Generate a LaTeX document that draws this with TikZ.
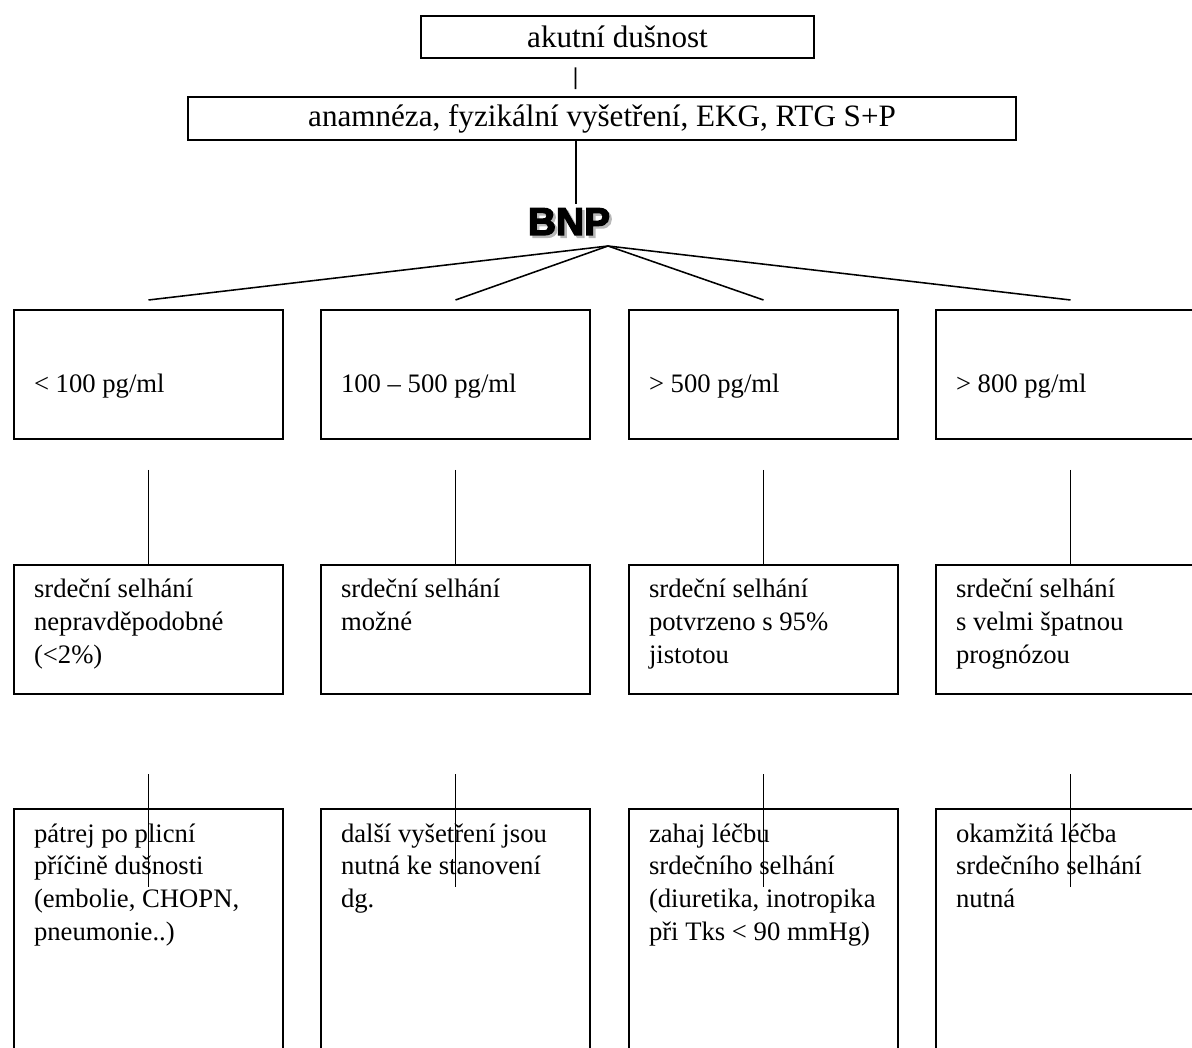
\documentclass[tikz,border=0pt]{standalone}
\usepackage{fontspec}
\setmainfont{Liberation Serif}
\newfontface\bnpfont{Liberation Sans Bold}[FakeBold=3.5]

\begin{document}
\begin{tikzpicture}[x=0.45pt, y=-0.45pt, line width=0.7pt,
	every node/.style={font=\fontsize{12}{14.7}\selectfont},
	headbox/.style={draw, line width=0.9pt, minimum height=19.2pt, inner sep=0pt, font=\fontsize{14}{16}\selectfont},
	levelbox/.style={draw, line width=0.9pt, anchor=north west, text width=103.05pt, inner xsep=9pt, inner ysep=0pt, text height=14.85pt,
		execute at begin node={\spaceskip=\fontdimen2\font\relax\xspaceskip=\fontdimen2\font\relax}},
	bnplabel/.style={anchor=base, inner sep=0pt, font=\bnpfont\fontsize{17.5}{20}\selectfont}]
	\useasboundingbox (0,0) rectangle (1192,1048);
	\clip (0,0) rectangle (1192,1048);
	\node[headbox, minimum width=176.85pt] (onset) at (617.5,37) {akutní dušnost};
	\node[headbox, minimum width=372.6pt] (exam) at (602,118.5) {anamnéza, fyzikální vyšetření, EKG, RTG S+P};
	\node[bnplabel, gray!55] (bnpshadow) at (571.5,237.5) {BNP};
	\node[bnplabel] (bnp) at (569,235) {BNP};
	\coordinate (apex) at (608,246);
	\draw ([shift={(-42,8)}]onset.south) -- ([shift={(-26.5,-7)}]exam.north);
	\draw ([shift={(-26,0)}]exam.south) -- ([shift={(7,-3)}]bnp.north);

	\node[levelbox, text height=37.35pt, text depth=20.7pt] (r1a) at (13,309) {< 100 pg/ml};
	\node[levelbox, text height=37.35pt, text depth=20.7pt] (r1b) at (320,309) {100 – 500 pg/ml};
	\node[levelbox, text height=37.35pt, text depth=20.7pt] (r1c) at (628,309) {> 500 pg/ml};
	\node[levelbox, text height=37.35pt, text depth=20.7pt] (r1d) at (935,309) {> 800 pg/ml};

	\node[levelbox, text depth=43.2pt] (r2a) at (13,564) {srdeční selhání\\ nepravděpodobné\\ (<2\%)};
	\node[levelbox, text depth=43.2pt] (r2b) at (320,564) {srdeční selhání\\ možné};
	\node[levelbox, text depth=43.2pt] (r2c) at (628,564) {srdeční selhání\\ potvrzeno s 95\%\\ jistotou};
	\node[levelbox, text depth=43.2pt] (r2d) at (935,564) {srdeční selhání\\ s velmi špatnou\\ prognózou};

	\node[levelbox, text depth=120pt] (r3a) at (13,808) {pátrej po plicní\\ příčině dušnosti\\ (embolie, CHOPN,\\ pneumonie..)};
	\node[levelbox, text depth=120pt] (r3b) at (320,808) {další vyšetření jsou\\ nutná ke stanovení\\ dg.};
	\node[levelbox, text depth=120pt] (r3c) at (628,808) {zahaj léčbu\\ srdečního selhání\\ (diuretika, inotropika\\ \mbox{při Tks < 90 mmHg)}};
	\node[levelbox, text depth=120pt] (r3d) at (935,808) {okamžitá léčba\\ srdečního selhání\\ nutná};

	\foreach \c in {a,b,c,d} {
		\draw (apex) -- ([shift={(0,-9)}]r1\c.north);
		\draw ([shift={(0,30)}]r1\c.south) -- (r2\c.north);
		\draw ([shift={(0,79)}]r2\c.south) -- ([shift={(0,79)}]r3\c.north);
	}
\end{tikzpicture}
\end{document}
